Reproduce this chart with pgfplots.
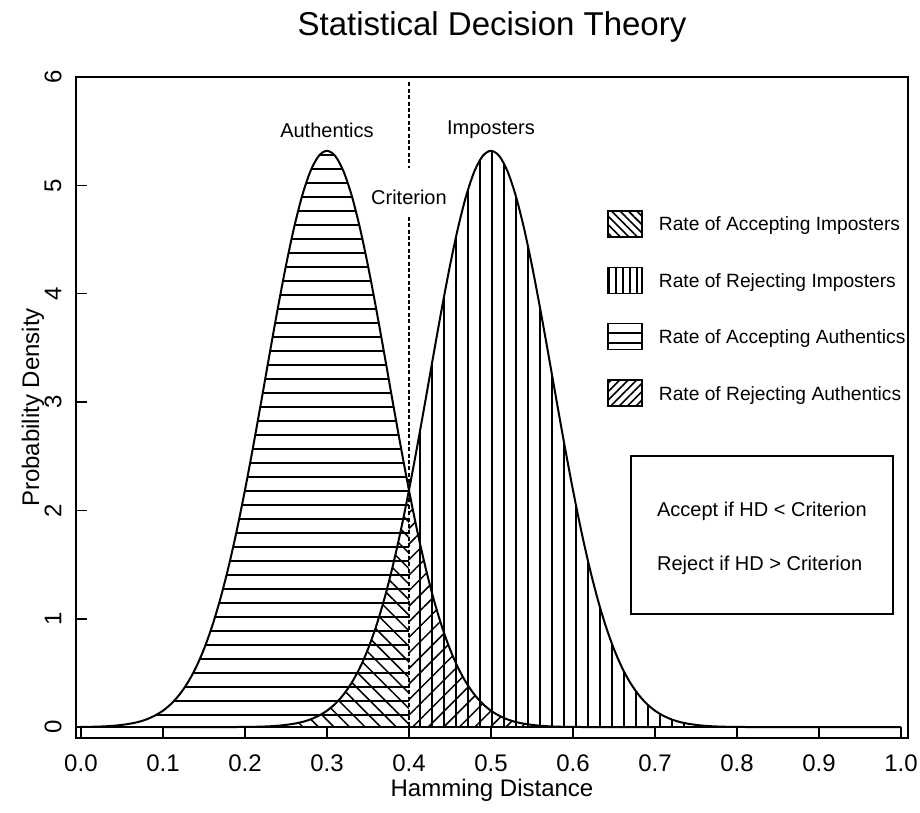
\documentclass[border=0pt]{standalone}
\usepackage{fontspec}
\setmainfont{Liberation Sans}
\usepackage{pgfplots}
\usepackage{pgfplotstable}
\pgfplotsset{compat=1.18}
\usetikzlibrary{patterns.meta}

% density of the two hamming distance distributions
\pgfplotstableread{
hd dens
0.00 0.002
0.01 0.003
0.02 0.005
0.03 0.008
0.04 0.013
0.05 0.021
0.06 0.032
0.07 0.048
0.08 0.072
0.09 0.106
0.10 0.152
0.11 0.215
0.12 0.299
0.13 0.408
0.14 0.546
0.15 0.720
0.16 0.932
0.17 1.184
0.18 1.479
0.19 1.814
0.20 2.187
0.21 2.589
0.22 3.011
0.23 3.441
0.24 3.862
0.25 4.259
0.26 4.614
0.27 4.910
0.28 5.133
0.29 5.272
0.30 5.319
0.31 5.272
0.32 5.133
0.33 4.910
0.34 4.614
0.35 4.259
0.36 3.862
0.37 3.441
0.38 3.011
0.39 2.589
0.40 2.187
0.41 1.814
0.42 1.479
0.43 1.184
0.44 0.932
0.45 0.720
0.46 0.546
0.47 0.408
0.48 0.299
0.49 0.215
0.50 0.152
0.51 0.106
0.52 0.072
0.53 0.048
0.54 0.032
0.55 0.021
0.56 0.013
0.57 0.008
0.58 0.005
0.59 0.003
0.60 0.002
0.65 0.000
0.70 0.000
}\authentics

\pgfplotstableread{
hd dens
0.10 0.000
0.15 0.000
0.20 0.002
0.21 0.003
0.22 0.005
0.23 0.008
0.24 0.013
0.25 0.021
0.26 0.032
0.27 0.048
0.28 0.072
0.29 0.106
0.30 0.152
0.31 0.215
0.32 0.299
0.33 0.408
0.34 0.546
0.35 0.720
0.36 0.932
0.37 1.184
0.38 1.479
0.39 1.814
0.40 2.187
0.41 2.589
0.42 3.011
0.43 3.441
0.44 3.862
0.45 4.259
0.46 4.614
0.47 4.910
0.48 5.133
0.49 5.272
0.50 5.319
0.51 5.272
0.52 5.133
0.53 4.910
0.54 4.614
0.55 4.259
0.56 3.862
0.57 3.441
0.58 3.011
0.59 2.589
0.60 2.187
0.61 1.814
0.62 1.479
0.63 1.184
0.64 0.932
0.65 0.720
0.66 0.546
0.67 0.408
0.68 0.299
0.69 0.215
0.70 0.152
0.71 0.106
0.72 0.072
0.73 0.048
0.74 0.032
0.75 0.021
0.76 0.013
0.77 0.008
0.78 0.005
0.79 0.003
0.80 0.002
0.85 0.000
0.90 0.000
1.00 0.000
}\imposters

\newcommand\lbl{\fontsize{9.6}{11.5}\selectfont}

\tikzset{
  accimp/.style={pattern={Lines[angle=-45,distance=5.5pt,line width=0.75pt]}},
  rejimp/.style={pattern={Lines[angle=90,distance=6pt,line width=0.8pt]}},
  accaut/.style={pattern={Lines[angle=0,distance=7pt,line width=0.75pt]}},
  rejaut/.style={pattern={Lines[angle=45,distance=5.5pt,line width=0.75pt]}},
  % denser hatching for the legend swatches
  accimpL/.style={pattern={Lines[angle=-45,distance=3pt,line width=0.8pt]}},
  rejimpL/.style={pattern={Lines[angle=90,distance=3.5pt,line width=0.8pt]}},
  accautL/.style={pattern={Lines[angle=0,distance=5pt,line width=1pt]}},
  rejautL/.style={pattern={Lines[angle=45,distance=3pt,line width=0.8pt]}},
}

\begin{document}
\begin{tikzpicture}
\path[use as bounding box] (-38pt,-37.5pt) rectangle (422pt,369pt);
\begin{axis}[
    scale only axis, width=416pt, height=330.5pt,
    xmin=-0.006, xmax=1.0085, ymin=-0.1, ymax=6,
    axis line style={line width=0.75pt},
    tick align=inside, major tick length=5.5pt,
    tick style={black, line width=0.75pt},
    xtick pos=bottom, ytick pos=left,
    xtick={0,0.1,0.2,0.3,0.4,0.5,0.6,0.7,0.8,0.9,1},
    ytick={0,1,2,3,4,5,6},
    /pgf/number format/assume math mode=true,
    ticklabel style={font=\fontsize{12}{14}\selectfont},
    xticklabel style={anchor=center, yshift=-12.5pt,
      /pgf/number format/.cd, fixed, fixed zerofill, precision=1},
    yticklabel style={rotate=90, anchor=center, yshift=11.5pt},
    xlabel={Hamming Distance}, ylabel={Probability Density},
    label style={font=\fontsize{12}{14}\selectfont},
    xlabel style={at={(axis description cs:0.5,0)}, anchor=center, yshift=-26pt},
    ylabel style={at={(axis description cs:0,0.5)}, anchor=center, yshift=21.5pt},
    title={Statistical Decision Theory},
    title style={font=\fontsize{16.5}{19}\selectfont, at={(axis description cs:0.5,1)}, anchor=base, yshift=15pt},
    legend style={draw=none, fill=none, at={(rel axis cs:0.638,0.799)}, anchor=north west,
      inner sep=0pt, row sep=14.5pt, nodes={inner sep=0pt, text depth=0pt}, font=\lbl},
    legend cell align=left,
    legend image code/.code={
      \draw[#1, line width=0.7pt] (0pt,-6.5pt) rectangle (17pt,6.5pt);
      \path[draw=none, fill=none] (0pt,0pt) -- (25.5pt,0pt);},
  ]
  % hatched areas
  \addplot[draw=none, accaut, smooth, restrict x to domain=0:0.4001, forget plot] table {\authentics} \closedcycle;
  \addplot[draw=none, rejaut, smooth, restrict x to domain=0.3999:1, forget plot] table {\authentics} \closedcycle;
  \addplot[draw=none, accimp, smooth, restrict x to domain=0:0.4001, forget plot] table {\imposters} \closedcycle;
  \addplot[draw=none, rejimp, smooth, restrict x to domain=0.3999:1, forget plot] table {\imposters} \closedcycle;
  % curves
  \addplot[black, line width=1pt, smooth, forget plot] table {\authentics};
  \addplot[black, line width=1pt, smooth, forget plot] table {\imposters};
  \addplot[black, line width=0.75pt, forget plot] coordinates {(0,0) (1,0)};
  % criterion
  \addplot[black, line width=1.1pt, dash pattern=on 2pt off 1.2pt, forget plot] coordinates {(0.4,5.95) (0.4,5.16)};
  \addplot[black, line width=1.1pt, dash pattern=on 2pt off 1.2pt, forget plot] coordinates {(0.4,4.71) (0.4,0)};

  \addlegendimage{accimpL}
  \addlegendentry{Rate of Accepting Imposters}
  \addlegendimage{rejimpL}
  \addlegendentry{Rate of Rejecting Imposters}
  \addlegendimage{accautL}
  \addlegendentry{Rate of Accepting Authentics}
  \addlegendimage{rejautL}
  \addlegendentry{Rate of Rejecting Authentics}

  \node[font=\fontsize{10}{12}\selectfont] at (axis cs:0.3,5.51) {Authentics};
  \node[font=\fontsize{10}{12}\selectfont] at (axis cs:0.5,5.51) {Imposters};
  \node[font=\fontsize{10}{12}\selectfont] at (axis cs:0.4,4.89) {Criterion};

  \draw[line width=0.75pt] (rel axis cs:0.667,0.4266) rectangle (rel axis cs:0.982,0.1876);
  \node[font=\fontsize{10}{12}\selectfont, anchor=west, inner sep=0pt] at (rel axis cs:0.698,0.3434) {Accept if HD < Criterion};
  \node[font=\fontsize{10}{12}\selectfont, anchor=west, inner sep=0pt] at (rel axis cs:0.698,0.2617) {Reject if HD > Criterion};
\end{axis}
\end{tikzpicture}
\end{document}
